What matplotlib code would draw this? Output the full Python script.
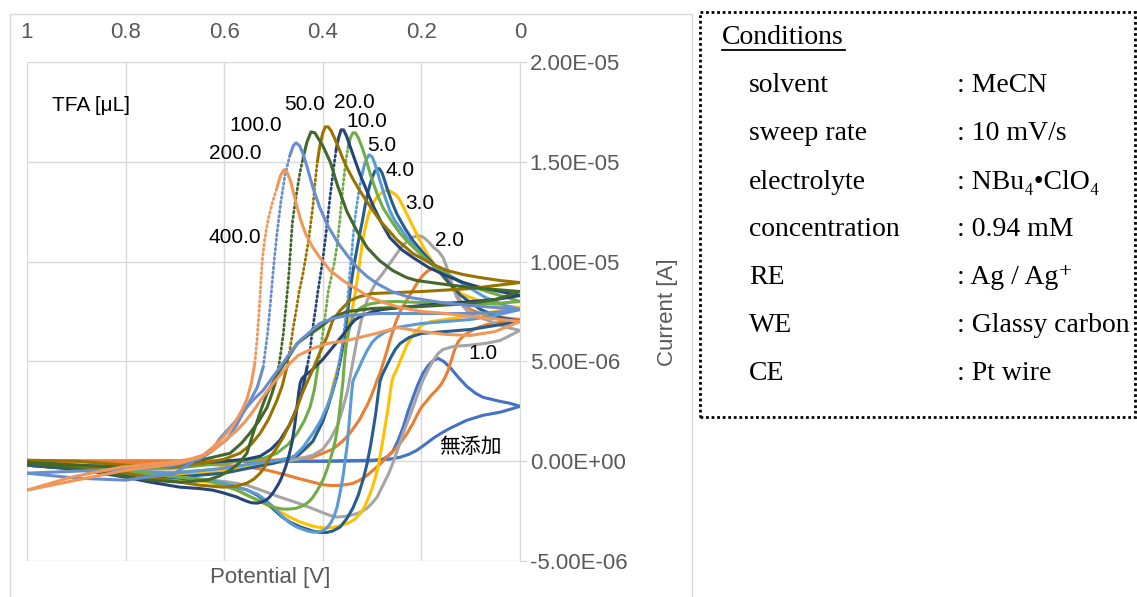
import matplotlib
matplotlib.use("Agg")
import matplotlib.pyplot as plt
from matplotlib.patches import Rectangle
from matplotlib.lines import Line2D

plt.rcParams['font.family'] = ['Liberation Sans', 'Noto Sans CJK JP', 'DejaVu Sans']

# (potential [V], current [uA]); fwd = 1 V -> 0 V, rev = 0 V -> 1 V
blank_fwd = [(1.0, 0.0), (0.8, 0.0), (0.6, 0.0), (0.4, 0.0), (0.3, 0.02), (0.278, 0.1), (0.268, 0.25),
             (0.258, 0.5), (0.248, 1.0), (0.237, 1.7), (0.227, 2.5), (0.217, 3.2), (0.207, 3.85),
             (0.197, 4.4), (0.186, 4.8), (0.176, 5.05), (0.166, 5.15), (0.155, 5.0), (0.142, 4.7),
             (0.125, 4.2), (0.108, 3.75), (0.09, 3.4), (0.075, 3.2), (0.041, 3.0), (0.02, 2.9), (0.0, 2.75)]
blank_rev = [(0.0, 2.75), (0.02, 2.6), (0.041, 2.45), (0.075, 2.3), (0.108, 2.05), (0.125, 1.85),
             (0.142, 1.65), (0.16, 1.4), (0.176, 1.15), (0.192, 0.85), (0.209, 0.55), (0.225, 0.35),
             (0.243, 0.2), (0.265, 0.1), (0.3, 0.05), (0.4, 0.0), (0.6, 0.0), (0.8, 0.0), (1.0, 0.0)]

tfa1_fwd = [(1.0, 0.0), (0.8, 0.0), (0.6, 0.0), (0.5, 0.05), (0.42, 0.2), (0.4, 0.4), (0.38, 0.6),
            (0.36, 1.0), (0.345, 1.4), (0.335, 1.75), (0.325, 2.1), (0.318, 2.45), (0.31, 2.8),
            (0.302, 3.25), (0.295, 3.7), (0.29, 4.05), (0.284, 4.4), (0.279, 4.8), (0.274, 5.2),
            (0.269, 5.6), (0.264, 6.05), (0.258, 6.5), (0.253, 6.9), (0.248, 7.2), (0.243, 7.5),
            (0.236, 7.8), (0.229, 8.1), (0.219, 8.5), (0.209, 8.9), (0.199, 9.25), (0.189, 9.5),
            (0.178, 9.66), (0.168, 9.7), (0.158, 9.55), (0.148, 9.2), (0.14, 8.85), (0.135, 8.6),
            (0.128, 8.3), (0.12, 8.0), (0.11, 7.8), (0.1, 7.6), (0.075, 7.35), (0.04, 7.2), (0.0, 7.1)]
tfa1_rev = [(0.0, 7.1), (0.03, 7.0), (0.067, 6.85), (0.09, 6.65), (0.108, 6.4), (0.118, 6.2), (0.125, 6.0),
            (0.13, 5.75), (0.135, 5.4), (0.14, 5.0), (0.145, 4.6), (0.152, 4.2), (0.16, 3.85), (0.17, 3.55),
            (0.18, 3.3), (0.19, 3.0), (0.2, 2.7), (0.208, 2.35), (0.217, 1.9), (0.23, 1.35), (0.243, 0.9),
            (0.257, 0.5), (0.27, 0.2), (0.284, -0.15), (0.298, -0.45), (0.312, -0.75), (0.325, -0.95),
            (0.34, -1.12), (0.36, -1.2), (0.38, -1.22), (0.4, -1.18), (0.425, -1.02), (0.452, -0.85),
            (0.48, -0.65), (0.513, -0.45), (0.55, -0.3), (0.6, -0.2), (0.7, -0.1), (0.85, -0.05), (1.0, 0.0)]

tfa2_fwd = [(1.0, -0.2), (0.9, -0.35), (0.8, -0.5), (0.7, -0.55), (0.6, -0.4), (0.5, -0.1), (0.45, 0.1),
            (0.42, 0.3), (0.4, 0.6), (0.385, 1.1), (0.37, 1.8), (0.36, 2.6), (0.35, 3.5), (0.344, 4.3),
            (0.338, 5.1), (0.331, 6.05), (0.322, 7.05), (0.315, 7.6), (0.31, 8.05), (0.3, 8.6), (0.29, 9.05),
            (0.28, 9.35), (0.27, 9.7), (0.26, 10.05), (0.25, 10.4), (0.24, 10.75), (0.23, 11.0), (0.22, 11.2),
            (0.207, 11.3), (0.198, 11.25), (0.19, 11.1), (0.182, 10.9), (0.175, 10.7), (0.165, 10.5),
            (0.156, 10.2), (0.149, 9.75), (0.142, 9.2), (0.135, 8.65), (0.128, 8.2), (0.118, 7.85),
            (0.108, 7.55), (0.09, 7.3), (0.075, 7.15), (0.05, 6.9), (0.026, 6.7), (0.0, 6.55)]
tfa2_rev = [(0.0, 6.55), (0.02, 6.3), (0.04, 6.05), (0.07, 5.9), (0.108, 5.8), (0.135, 5.75), (0.156, 5.6),
            (0.166, 5.4), (0.176, 5.05), (0.186, 4.6), (0.197, 4.05), (0.207, 3.4), (0.217, 2.7),
            (0.227, 2.05), (0.237, 1.4), (0.247, 0.65), (0.258, -0.1), (0.266, -0.6), (0.275, -1.05),
            (0.283, -1.45), (0.29, -1.8), (0.3, -2.1), (0.31, -2.35), (0.32, -2.5), (0.33, -2.62),
            (0.35, -2.75), (0.371, -2.8), (0.385, -2.72), (0.4, -2.58), (0.42, -2.38), (0.45, -2.1),
            (0.487, -1.8), (0.52, -1.5), (0.554, -1.2), (0.59, -1.05), (0.623, -0.95), (0.69, -0.85),
            (0.8, -0.55), (0.9, -0.35), (1.0, -0.2)]

tfa3_fwd = [(1.0, -0.2), (0.9, -0.35), (0.8, -0.55), (0.7, -0.7), (0.6, -0.5), (0.5, -0.05), (0.45, 0.3),
            (0.43, 0.7), (0.42, 1.0), (0.41, 1.5), (0.4, 2.0), (0.392, 2.6), (0.385, 3.2), (0.378, 3.9),
            (0.37, 4.6), (0.362, 5.3), (0.355, 6.0), (0.349, 6.6), (0.343, 7.3), (0.338, 7.9), (0.333, 8.6),
            (0.329, 9.3), (0.325, 10.0), (0.321, 10.7), (0.318, 11.2), (0.313, 11.8), (0.308, 12.3),
            (0.302, 12.7), (0.295, 13.05), (0.288, 13.3), (0.28, 13.45), (0.273, 13.55), (0.266, 13.55),
            (0.258, 13.45), (0.25, 13.3), (0.243, 13.05), (0.233, 12.55), (0.223, 12.05), (0.213, 11.55),
            (0.203, 11.05), (0.193, 10.6), (0.183, 10.2), (0.162, 9.4), (0.14, 8.8), (0.12, 8.4),
            (0.08, 8.0), (0.04, 7.8), (0.0, 7.7)]
tfa3_rev = [(0.0, 7.7), (0.05, 7.5), (0.1, 7.3), (0.15, 7.1), (0.18, 7.0), (0.2, 6.8), (0.215, 6.4),
            (0.23, 5.8), (0.24, 5.2), (0.25, 4.6), (0.256, 4.3), (0.26, 4.0), (0.264, 3.3), (0.268, 2.6),
            (0.272, 2.0), (0.276, 1.4), (0.28, 0.8), (0.285, 0.1), (0.29, -0.5), (0.295, -0.95),
            (0.3, -1.35), (0.31, -2.0), (0.317, -2.35), (0.325, -2.65), (0.335, -2.9), (0.345, -3.05),
            (0.36, -3.2), (0.372, -3.28), (0.385, -3.33), (0.398, -3.34), (0.412, -3.3), (0.425, -3.22),
            (0.44, -3.1), (0.453, -2.97), (0.467, -2.8), (0.48, -2.62), (0.495, -2.45), (0.507, -2.28),
            (0.52, -2.1), (0.537, -1.9), (0.555, -1.7), (0.57, -1.5), (0.588, -1.3), (0.61, -1.15),
            (0.63, -1.05), (0.69, -0.9), (0.8, -0.6), (0.9, -0.4), (1.0, -0.2)]

tfa4_fwd = [(1.0, -0.2), (0.9, -0.4), (0.8, -0.6), (0.7, -0.8), (0.6, -0.6), (0.55, -0.35), (0.5, -0.1),
            (0.45, 0.3), (0.42, 1.0), (0.4, 2.0), (0.39, 2.7), (0.38, 3.5), (0.372, 4.2), (0.365, 5.0),
            (0.358, 6.0), (0.352, 7.0), (0.347, 8.0), (0.342, 9.0), (0.337, 9.8), (0.331, 10.6),
            (0.325, 11.4), (0.32, 12.0), (0.315, 12.7), (0.31, 13.3), (0.305, 13.8), (0.3, 14.2),
            (0.295, 14.5), (0.29, 14.65), (0.285, 14.65), (0.28, 14.45), (0.275, 14.1), (0.27, 13.7),
            (0.26, 13.0), (0.25, 12.4), (0.24, 11.95), (0.233, 11.65), (0.217, 11.05), (0.195, 10.4),
            (0.176, 9.9), (0.15, 9.1), (0.12, 8.3), (0.08, 7.6), (0.04, 7.2), (0.0, 7.0)]
tfa4_rev = [(0.0, 7.0), (0.05, 6.8), (0.1, 6.6), (0.15, 6.5), (0.2, 6.4), (0.225, 6.2), (0.243, 5.9),
            (0.253, 5.6), (0.262, 5.2), (0.272, 4.7), (0.279, 4.35), (0.284, 4.0), (0.288, 3.3),
            (0.292, 2.5), (0.297, 1.7), (0.303, 0.8), (0.31, -0.1), (0.318, -0.9), (0.328, -1.7),
            (0.339, -2.35), (0.352, -2.9), (0.365, -3.3), (0.38, -3.5), (0.392, -3.57), (0.405, -3.57),
            (0.42, -3.5), (0.445, -3.3), (0.467, -3.05), (0.485, -2.75), (0.5, -2.4), (0.517, -2.0),
            (0.533, -1.7), (0.553, -1.45), (0.574, -1.3), (0.623, -1.0), (0.69, -0.85), (0.8, -0.6),
            (0.9, -0.4), (1.0, -0.2)]

tfa5_fwd = [(1.0, -0.1), (0.9, -0.3), (0.8, -0.5), (0.7, -0.6), (0.6, -0.35), (0.55, -0.15), (0.5, 0.0),
            (0.46, 0.2), (0.44, 0.7), (0.42, 1.4), (0.405, 2.0), (0.392, 2.7), (0.383, 3.3), (0.375, 4.0),
            (0.368, 4.8), (0.362, 5.6), (0.357, 6.5), (0.352, 7.5), (0.348, 8.5), (0.345, 9.5),
            (0.341, 10.5), (0.338, 11.4), (0.334, 12.3), (0.33, 13.0), (0.325, 13.8), (0.32, 14.4),
            (0.315, 14.9), (0.31, 15.2), (0.306, 15.35), (0.3, 15.25), (0.295, 14.95), (0.29, 14.55),
            (0.284, 14.05), (0.274, 13.25), (0.264, 12.55), (0.255, 12.1), (0.245, 11.75), (0.229, 11.2),
            (0.21, 10.6), (0.189, 10.05), (0.17, 9.7), (0.148, 9.4), (0.11, 8.8), (0.07, 8.2),
            (0.03, 7.8), (0.0, 7.6)]
tfa5_rev = [(0.0, 7.6), (0.05, 7.3), (0.1, 7.1), (0.15, 7.0), (0.2, 6.9), (0.25, 6.7), (0.275, 6.45),
            (0.29, 6.2), (0.3, 5.95), (0.31, 5.55), (0.32, 5.05), (0.328, 4.6), (0.334, 4.3), (0.339, 4.0),
            (0.342, 3.3), (0.345, 2.4), (0.348, 1.5), (0.351, 0.7), (0.355, 0.0), (0.358, -0.6),
            (0.362, -1.2), (0.366, -1.7), (0.371, -2.3), (0.377, -2.75), (0.384, -3.1), (0.392, -3.35),
            (0.4, -3.48), (0.41, -3.55), (0.42, -3.55), (0.43, -3.5), (0.44, -3.42), (0.453, -3.3),
            (0.467, -3.1), (0.483, -2.75), (0.5, -2.3), (0.516, -1.95), (0.533, -1.65), (0.553, -1.45),
            (0.574, -1.3), (0.623, -0.95), (0.69, -0.8), (0.8, -0.5), (0.9, -0.3), (1.0, -0.1)]

tfa10_fwd = [(1.0, -0.05), (0.9, -0.25), (0.8, -0.4), (0.7, -0.35), (0.6, -0.1), (0.55, 0.05), (0.52, 0.15),
             (0.493, 0.4), (0.47, 0.85), (0.452, 1.4), (0.438, 2.0), (0.426, 2.7), (0.417, 3.6), (0.41, 4.7),
             (0.405, 5.5), (0.4, 6.4), (0.394, 7.5), (0.389, 8.5), (0.383, 9.2), (0.377, 9.9), (0.371, 10.8),
             (0.365, 12.2), (0.359, 13.8), (0.354, 14.9), (0.349, 15.7), (0.344, 16.2), (0.339, 16.45),
             (0.334, 16.45), (0.328, 16.2), (0.32, 15.7), (0.312, 15.1), (0.304, 14.4), (0.29, 13.4),
             (0.278, 12.7), (0.26, 12.0), (0.243, 11.4), (0.222, 10.85), (0.203, 10.4), (0.18, 9.9),
             (0.16, 9.5), (0.12, 9.0), (0.08, 8.6), (0.04, 8.3), (0.0, 8.0)]
tfa10_rev = [(0.0, 8.0), (0.05, 7.9), (0.1, 7.9), (0.2, 7.95), (0.25, 8.0), (0.28, 7.98), (0.3, 7.9),
             (0.315, 7.8), (0.325, 7.65), (0.333, 7.45), (0.34, 7.15), (0.345, 6.75), (0.35, 6.2),
             (0.353, 5.7), (0.356, 5.0), (0.359, 4.05), (0.362, 3.35), (0.365, 2.7), (0.368, 2.1),
             (0.371, 1.55), (0.375, 1.0), (0.38, 0.5), (0.386, 0.0), (0.392, -0.45), (0.398, -0.85),
             (0.405, -1.2), (0.412, -1.5), (0.42, -1.8), (0.427, -2.0), (0.435, -2.15), (0.445, -2.28),
             (0.455, -2.36), (0.467, -2.4), (0.48, -2.4), (0.49, -2.36), (0.5, -2.3), (0.51, -2.2),
             (0.52, -2.1), (0.532, -1.95), (0.545, -1.8), (0.56, -1.62), (0.574, -1.45), (0.59, -1.32),
             (0.605, -1.2), (0.635, -0.95), (0.69, -0.8), (0.8, -0.5), (0.9, -0.3), (1.0, -0.05)]

tfa20_fwd = [(1.0, -0.1), (0.9, -0.2), (0.8, -0.3), (0.7, -0.2), (0.6, 0.0), (0.555, 0.1), (0.527, 0.25),
             (0.505, 0.6), (0.487, 1.05), (0.468, 1.8), (0.452, 2.7), (0.441, 3.6), (0.432, 4.7),
             (0.426, 5.5), (0.422, 6.4), (0.416, 7.4), (0.41, 8.5), (0.405, 9.3), (0.4, 10.1), (0.394, 11.3),
             (0.389, 12.4), (0.385, 13.3), (0.381, 14.1), (0.377, 14.9), (0.373, 15.6), (0.368, 16.2),
             (0.363, 16.6), (0.358, 16.6), (0.352, 16.3), (0.345, 15.8), (0.335, 15.1), (0.325, 14.4),
             (0.31, 13.5), (0.298, 12.8), (0.28, 11.9), (0.264, 11.2), (0.24, 10.6), (0.217, 10.2),
             (0.185, 9.7), (0.15, 9.3), (0.115, 8.95), (0.08, 8.7), (0.04, 8.5), (0.0, 8.3)]
tfa20_rev = [(0.0, 8.3), (0.05, 8.1), (0.1, 8.0), (0.2, 7.8), (0.28, 7.6), (0.3, 7.48), (0.32, 7.3),
             (0.335, 7.08), (0.345, 6.8), (0.357, 6.4), (0.37, 6.0), (0.385, 5.55), (0.4, 5.1), (0.412, 4.8),
             (0.425, 4.5), (0.436, 4.3), (0.442, 4.15), (0.446, 3.9), (0.449, 3.4), (0.452, 2.8),
             (0.457, 1.8), (0.462, 1.0), (0.466, 0.55), (0.47, 0.15), (0.475, -0.25), (0.48, -0.6),
             (0.485, -0.9), (0.49, -1.15), (0.5, -1.55), (0.508, -1.8), (0.515, -1.95), (0.524, -2.05),
             (0.533, -2.1), (0.545, -2.08), (0.555, -2.0), (0.565, -1.9), (0.574, -1.8), (0.6, -1.6),
             (0.623, -1.45), (0.65, -1.37), (0.69, -1.3), (0.75, -1.05), (0.8, -0.8), (0.9, -0.4),
             (1.0, -0.1)]

tfa50_fwd = [(1.0, 0.05), (0.9, 0.0), (0.8, -0.2), (0.7, -0.3), (0.63, -0.05), (0.6, 0.1), (0.568, 0.4),
             (0.545, 0.85), (0.527, 1.4), (0.51, 2.1), (0.493, 3.05), (0.482, 3.8), (0.473, 4.7),
             (0.466, 5.7), (0.46, 6.7), (0.453, 7.7), (0.448, 8.5), (0.441, 9.3), (0.436, 10.0),
             (0.43, 10.9), (0.425, 11.8), (0.42, 12.8), (0.416, 13.9), (0.411, 15.0), (0.406, 15.8),
             (0.4, 16.45), (0.395, 16.75), (0.389, 16.75), (0.383, 16.55), (0.371, 15.9), (0.36, 15.2),
             (0.351, 14.7), (0.338, 14.1), (0.325, 13.55), (0.305, 12.8), (0.284, 12.05), (0.25, 11.1),
             (0.217, 10.4), (0.18, 9.9), (0.148, 9.55), (0.115, 9.35), (0.081, 9.2), (0.04, 9.05),
             (0.0, 8.95)]
tfa50_rev = [(0.0, 8.95), (0.05, 8.8), (0.1, 8.65), (0.2, 8.5), (0.25, 8.45), (0.3, 8.4), (0.325, 8.25),
             (0.345, 8.05), (0.365, 7.55), (0.38, 7.05), (0.392, 6.2), (0.405, 5.5), (0.42, 4.6),
             (0.44, 3.5), (0.46, 2.2), (0.48, 1.2), (0.495, 0.6), (0.507, 0.2), (0.517, -0.25),
             (0.527, -0.6), (0.54, -0.9), (0.554, -1.1), (0.575, -1.25), (0.603, -1.3), (0.65, -1.2),
             (0.69, -1.05), (0.8, -0.6), (0.9, -0.3), (1.0, 0.05)]

tfa100_fwd = [(1.0, -0.05), (0.9, -0.2), (0.8, -0.3), (0.7, -0.2), (0.64, 0.1), (0.588, 0.4), (0.565, 0.9),
              (0.548, 1.4), (0.53, 2.0), (0.513, 2.7), (0.503, 3.4), (0.493, 4.2), (0.486, 5.3), (0.48, 6.4),
              (0.475, 7.7), (0.47, 9.0), (0.466, 10.4), (0.462, 11.9), (0.457, 12.8), (0.452, 13.6),
              (0.446, 14.5), (0.44, 15.2), (0.432, 16.0), (0.424, 16.5), (0.416, 16.45), (0.41, 16.2),
              (0.4, 15.8), (0.385, 15.0), (0.37, 13.8), (0.351, 12.5), (0.33, 11.5), (0.31, 10.7),
              (0.285, 10.05), (0.258, 9.55), (0.23, 9.2), (0.209, 9.05), (0.15, 8.85), (0.1, 8.7),
              (0.0, 8.5)]
tfa100_rev = [(0.0, 8.5), (0.05, 8.1), (0.1, 7.9), (0.2, 7.75), (0.3, 7.65), (0.35, 7.5), (0.38, 7.2),
              (0.406, 6.7), (0.43, 6.3), (0.452, 5.9), (0.47, 5.2), (0.487, 4.55), (0.5, 4.0), (0.513, 3.4),
              (0.525, 2.6), (0.54, 1.5), (0.554, 0.4), (0.57, -0.1), (0.588, -0.45), (0.61, -0.75),
              (0.635, -0.95), (0.69, -1.05), (0.75, -0.95), (0.81, -0.7), (0.91, -0.35), (1.0, -0.1)]

tfa200_fwd = [(1.0, -0.6), (0.9, -0.85), (0.8, -0.95), (0.7, -0.6), (0.65, 0.2), (0.62, 0.6), (0.594, 1.1),
              (0.575, 1.8), (0.562, 2.4), (0.548, 3.0), (0.533, 3.7), (0.521, 4.7), (0.512, 6.4),
              (0.506, 8.0), (0.5, 9.7), (0.493, 11.4), (0.485, 13.0), (0.477, 14.3), (0.467, 15.3),
              (0.46, 15.8), (0.454, 15.95), (0.447, 15.8), (0.44, 15.4), (0.432, 14.75), (0.42, 13.7),
              (0.406, 12.7), (0.39, 11.8), (0.371, 11.0), (0.35, 10.3), (0.33, 9.7), (0.31, 9.25),
              (0.29, 8.9), (0.26, 8.5), (0.223, 8.2), (0.16, 7.95), (0.1, 7.8), (0.0, 7.6)]
tfa200_rev = [(0.0, 7.6), (0.05, 7.45), (0.1, 7.4), (0.2, 7.4), (0.284, 7.4), (0.35, 7.3), (0.38, 7.15),
              (0.406, 6.9), (0.425, 6.5), (0.446, 6.05), (0.467, 5.4), (0.487, 4.7), (0.505, 4.1),
              (0.521, 3.55), (0.54, 3.1), (0.554, 2.7), (0.57, 2.2), (0.588, 1.7), (0.61, 1.1),
              (0.625, 0.5), (0.65, 0.1), (0.7, -0.2), (0.8, -0.4), (0.9, -0.5), (1.0, -0.6)]

tfa400_fwd = [(1.0, -1.45), (0.91, -0.8), (0.81, -0.3), (0.71, -0.05), (0.67, 0.1), (0.643, 0.3),
              (0.623, 0.7), (0.6, 1.25), (0.582, 1.8), (0.565, 2.5), (0.554, 3.1), (0.545, 3.9), (0.538, 4.9),
              (0.533, 6.2), (0.529, 7.6), (0.526, 8.8), (0.523, 10.0), (0.518, 11.1), (0.511, 12.1),
              (0.503, 12.9), (0.493, 13.7), (0.486, 14.3), (0.479, 14.6), (0.472, 14.45), (0.465, 14.0),
              (0.455, 13.0), (0.445, 12.1), (0.435, 11.4), (0.42, 10.7), (0.406, 10.2), (0.385, 9.55),
              (0.359, 9.05), (0.33, 8.6), (0.304, 8.2), (0.27, 7.9), (0.243, 7.7), (0.2, 7.5), (0.15, 7.4),
              (0.08, 7.2), (0.0, 7.0)]
tfa400_rev = [(0.0, 7.0), (0.05, 6.5), (0.1, 6.3), (0.15, 6.35), (0.2, 6.5), (0.25, 6.7), (0.284, 6.45),
              (0.35, 6.05), (0.39, 5.9), (0.42, 5.65), (0.45, 5.3), (0.467, 4.9), (0.487, 4.3), (0.507, 3.7),
              (0.525, 3.1), (0.54, 2.55), (0.557, 2.0), (0.574, 1.55), (0.6, 1.0), (0.623, 0.55),
              (0.65, 0.2), (0.69, -0.1), (0.8, -0.45), (0.9, -0.95), (1.0, -1.45)]

names = ["無添加", "1.0", "2.0", "3.0", "4.0", "5.0", "10.0", "20.0", "50.0", "100.0", "200.0", "400.0"]
colors = ["#4472C4", "#ED7D31", "#A5A5A5", "#FFC000", "#255E91", "#5B9BD5",
          "#70AD47", "#264478", "#997300", "#43682B", "#698ED0", "#F1975A"]
forward = [blank_fwd, tfa1_fwd, tfa2_fwd, tfa3_fwd, tfa4_fwd, tfa5_fwd,
           tfa10_fwd, tfa20_fwd, tfa50_fwd, tfa100_fwd, tfa200_fwd, tfa400_fwd]
reverse = [blank_rev, tfa1_rev, tfa2_rev, tfa3_rev, tfa4_rev, tfa5_rev,
           tfa10_rev, tfa20_rev, tfa50_rev, tfa100_rev, tfa200_rev, tfa400_rev]
# potential window of the forward rise that shows as a dotted line
dotted_window = [None, None, None, None, None, (0.375, 0.32), (0.41, 0.349), (0.432, 0.373),
                 (0.473, 0.408), (0.493, 0.44), (0.521, 0.467), (0.538, 0.493)]

# label anchor points (potential, current uA)
label_pos = [(0.101, 0.7), (0.075, 5.4), (0.142, 11.05), (0.203, 12.9), (0.243, 14.55), (0.28, 15.8),
             (0.31, 17.0), (0.335, 17.95), (0.436, 17.85), (0.537, 16.8), (0.578, 15.4), (0.578, 11.2)]

grid_c = '#D9D9D9'
text_c = '#595959'

fig = plt.figure(figsize=(11.37, 5.97), dpi=100)
W, H = 1137, 597
ax = fig.add_axes([27 / W, 1 - 561 / H, (520 - 27) / W, (561 - 62) / H])


def pieces(pts, window):
    if window is None:
        return [pts], []
    hi, lo = window
    idx = [i for i, (e, _) in enumerate(pts) if lo <= e <= hi]
    a, b = idx[0], idx[-1]
    return [pts[:a + 1], pts[b:]], [pts[a:b + 1]]


for name, col, fw, rv, win in zip(names, colors, forward, reverse, dotted_window):
    solid, dots = pieces(fw, win)
    for seg in solid + [rv]:
        ax.plot([p[0] for p in seg], [p[1] * 1e-6 for p in seg], color=col, lw=2.2,
                solid_joinstyle='round', solid_capstyle='round', zorder=3)
    for seg in dots:
        ax.plot([p[0] for p in seg], [p[1] * 1e-6 for p in seg], color=col, lw=2.0,
                linestyle=(0, (0.6, 1.1)), dash_capstyle='round', zorder=3)

for name, (e, i) in zip(names, label_pos):
    ax.text(e, i * 1e-6, name, fontsize=15, color='black', ha='center', va='center', zorder=5)
ax.text(0.949, 17.8e-6, 'TFA [μL]', fontsize=15, color='black', ha='left', va='center', zorder=5)

ax.set_xlim(1, 0)
ax.set_ylim(-5e-6, 2e-5)
ax.set_xticks([1, 0.8, 0.6, 0.4, 0.2, 0])
ax.set_xticklabels(['1', '0.8', '0.6', '0.4', '0.2', '0'])
ax.set_yticks([-5e-6, 0, 5e-6, 1e-5, 1.5e-5, 2e-5])
ax.set_yticklabels(['-5.00E-06', '0.00E+00', '5.00E-06', '1.00E-05', '1.50E-05', '2.00E-05'])
ax.xaxis.tick_top()
ax.yaxis.tick_right()
ax.tick_params(axis='x', length=0, pad=14, labelsize=16, labelcolor=text_c)
ax.tick_params(axis='y', length=5, width=1, color=grid_c, pad=2, labelsize=16, labelcolor=text_c)
for s in ['top', 'bottom', 'left']:
    ax.spines[s].set_visible(False)
ax.spines['right'].set_color(grid_c)
ax.grid(True, color=grid_c, lw=1)
ax.set_axisbelow(True)

fig.text(270 / W, 1 - 578 / H, 'Potential [V]', fontsize=16, color=text_c, ha='center', va='center')
fig.text(668 / W, 1 - 312 / H, 'Current [A]', fontsize=16, color=text_c, ha='center', va='center',
         rotation=90)

# chart frame
fig.patches.append(Rectangle((10 / W, -0.01), 682 / W, 1 - 14 / H + 0.01, transform=fig.transFigure,
                             fill=False, ec=grid_c, lw=1))

# conditions box
fig.patches.append(Rectangle((700 / W, 1 - 417 / H), 435 / W, 405 / H, transform=fig.transFigure,
                             fill=False, ec='black', lw=2, ls=(0, (1, 1))))
serif = ['Liberation Serif', 'DejaVu Serif']
fig.text(722 / W, 1 - 37 / H, 'Conditions', fontsize=20, family=serif, ha='left', va='center')
fig.add_artist(Line2D([722 / W, 845 / W], [1 - 50 / H, 1 - 50 / H], color='black', lw=1.3))
cond_keys = ['solvent', 'sweep rate', 'electrolyte', 'concentration', 'RE', 'WE', 'CE']
cond_vals = [': MeCN', ': 10 mV/s', ': NBu₄•ClO₄', ': 0.94 mM', ': Ag / Ag⁺', ': Glassy carbon', ': Pt wire']
row_y = [85, 133, 182, 230, 278, 326, 374]
for k, v, y in zip(cond_keys, cond_vals, row_y):
    fig.text(749 / W, 1 - y / H, k, fontsize=20, family=serif, ha='left', va='center')
    fig.text(957 / W, 1 - y / H, v, fontsize=20, family=serif, ha='left', va='center')

fig.savefig('out.png', dpi=100)
